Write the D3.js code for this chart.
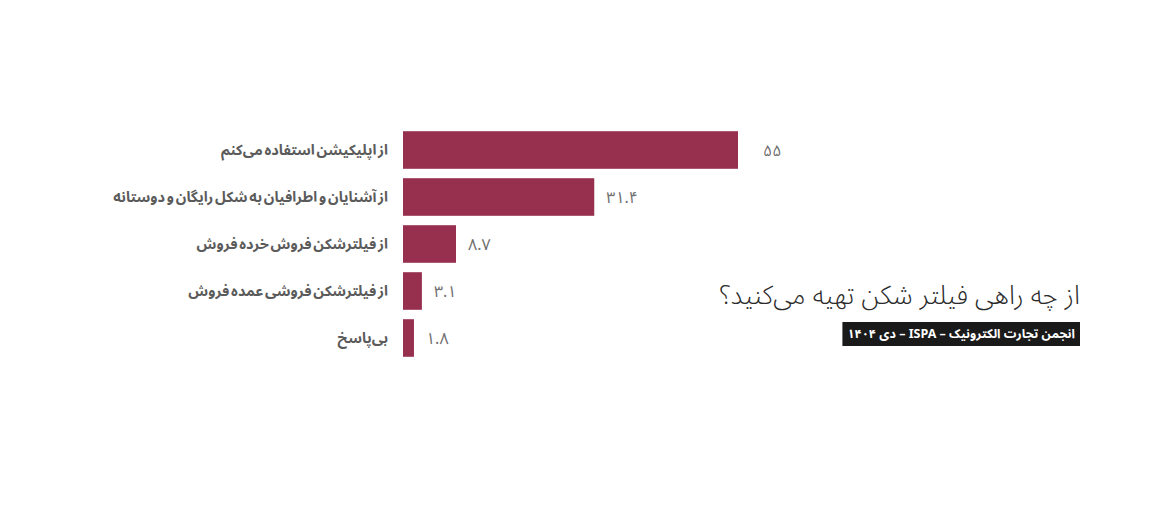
<!DOCTYPE html>
<html>
<head>
<meta charset="utf-8">
<script src="https://cdn.jsdelivr.net/npm/d3@7/dist/d3.min.js"></script>
<style>
  html, body { margin: 0; padding: 0; background: #ffffff; }
  svg { display: block; }
  text { font-family: "Noto Sans Arabic", "Vazirmatn", "DejaVu Sans", sans-serif; }
</style>
</head>
<body>
<svg id="chart" width="1160" height="512"></svg>
<script>
const categories = [
  "از اپلیکیشن استفاده می‌کنم",
  "از آشنایان و اطرافیان به شکل رایگان و دوستانه",
  "از فیلترشکن فروش خرده فروش",
  "از فیلترشکن فروشی عمده فروش",
  "بی‌پاسخ"
];
const values = [55, 31.4, 8.7, 3.1, 1.8];
const titleText = "از چه راهی فیلتر شکن تهیه می‌کنید؟";
const sourceText = "انجمن تجارت الکترونیک – ISPA – دی ۱۴۰۴";

const svg = d3.select("#chart");
const barColor = "#97304f";

const x = d3.scaleLinear().domain([0, 55]).range([403, 738]);
const y = d3.scaleBand().domain(categories).range([126.5, 361.5]).paddingInner(0.2).paddingOuter(0.1);

const toFa = s => String(s).replace(/[0-9]/g, d => "۰۱۲۳۴۵۶۷۸۹"[+d]);

const data = categories.map((c, i) => ({ c, v: values[i] }));

svg.append("g").selectAll("rect").data(data).join("rect")
  .attr("x", x(0))
  .attr("y", d => y(d.c))
  .attr("width", d => x(d.v) - x(0))
  .attr("height", y.bandwidth())
  .attr("fill", barColor);

// category labels (right aligned)
svg.append("g").selectAll("text").data(data).join("text")
  .attr("x", 388)
  .attr("y", d => y(d.c) + y.bandwidth() / 2)
  .attr("dy", "0.35em")
  .attr("direction", "rtl")
  .attr("text-anchor", "start")
  .attr("font-size", 14.5)
  .attr("font-weight", 700)
  .attr("word-spacing", -2)
  .attr("fill", "#5b5b5b")
  .text(d => d.c);

// value labels
svg.append("g").selectAll("text").data(data).join("text")
  .attr("x", d => x(d.v) + (d.v > 50 ? 25 : 12))
  .attr("y", d => y(d.c) + y.bandwidth() / 2)
  .attr("dy", "0.35em")
  .attr("text-anchor", "start")
  .attr("font-size", 16)
  .attr("fill", "#6f6f6f")
  .text(d => toFa(d.v));

// title
svg.append("text")
  .attr("x", 1080)
  .attr("y", 304)
  .attr("direction", "rtl")
  .attr("text-anchor", "start")
  .attr("font-size", 26)
  .attr("font-weight", 300)
  .attr("fill", "#2b2b2b")
  .text(titleText);

// source box
const src = svg.append("g");
const srcText = src.append("text")
  .attr("x", 1075)
  .attr("y", 334)
  .attr("dy", "0.35em")
  .attr("direction", "rtl")
  .attr("text-anchor", "start")
  .attr("font-size", 12.5)
  .attr("font-weight", 700)
  .attr("fill", "#ffffff")
  .text(sourceText);
const bb = srcText.node().getBBox();
src.insert("rect", "text")
  .attr("x", bb.x - 5)
  .attr("y", 322)
  .attr("width", 1080 - (bb.x - 5))
  .attr("height", 24)
  .attr("fill", "#1a1a1a");
</script>
</body>
</html>
